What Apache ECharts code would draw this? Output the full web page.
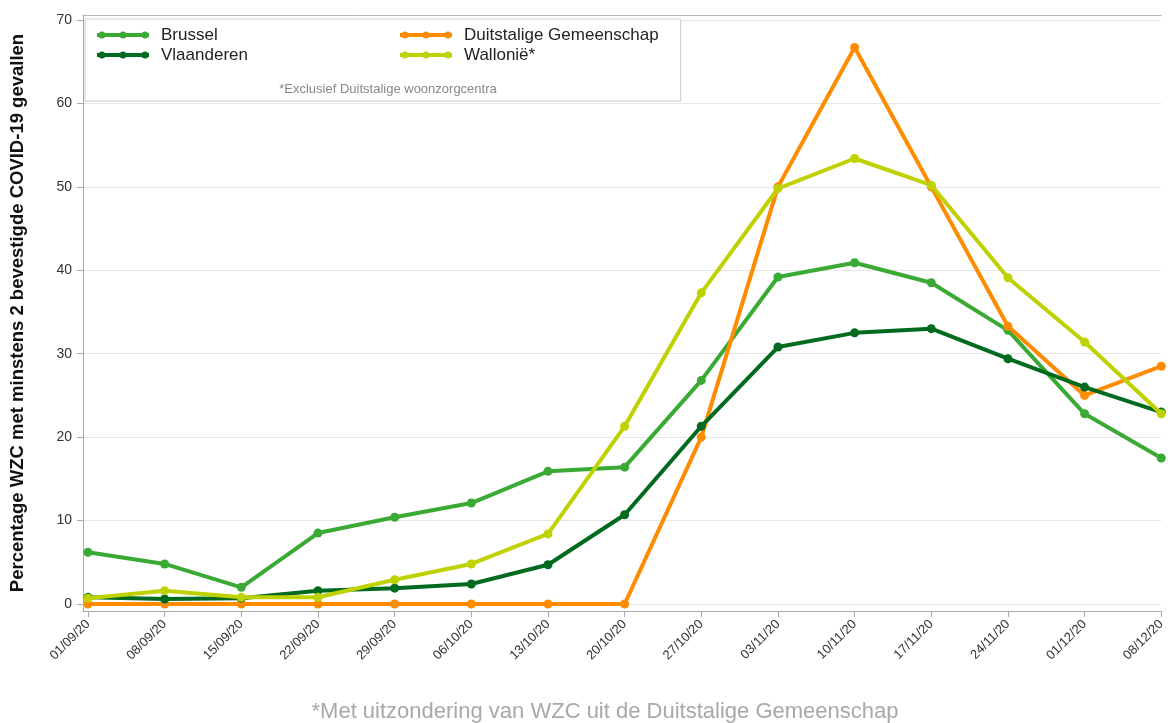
<!DOCTYPE html>
<html>
<head>
<meta charset="utf-8">
<script src="https://cdn.jsdelivr.net/npm/echarts@6/dist/echarts.min.js"></script>
<style>
html,body{margin:0;padding:0;background:#fff;}
#chart{width:1168px;height:723px;}
</style>
</head>
<body>
<div id="chart"></div>
<script>
const categories = ['01/09/20','08/09/20','15/09/20','22/09/20','29/09/20','06/10/20','13/10/20','20/10/20','27/10/20','03/11/20','10/11/20','17/11/20','24/11/20','01/12/20','08/12/20'];
const brussel     = [6.2, 4.8, 2.0, 8.5, 10.4, 12.1, 15.9, 16.4, 26.8, 39.2, 40.9, 38.5, 32.8, 22.8, 17.5];
const duitstalig  = [0, 0, 0, 0, 0, 0, 0, 0, 20.0, 50.0, 66.7, 50.0, 33.3, 25.0, 28.5];
const vlaanderen  = [0.8, 0.6, 0.7, 1.6, 1.9, 2.4, 4.7, 10.7, 21.3, 30.8, 32.5, 33.0, 29.4, 26.0, 23.0];
const wallonie    = [0.7, 1.6, 0.8, 0.8, 2.9, 4.8, 8.4, 21.3, 37.3, 49.8, 53.4, 50.2, 39.1, 31.4, 22.8];
const yTicks = [0, 10, 20, 30, 40, 50, 60, 70];
const seriesNames = ['Brussel', 'Duitstalige Gemeenschap', 'Vlaanderen', 'Wallonië*'];
const seriesValues = [brussel, duitstalig, vlaanderen, wallonie];
const seriesColors = ['#3aaa35', '#ff8c00', '#006b1f', '#bfd200'];

const FONT = "'Liberation Sans', Arial, sans-serif";
const xIdx = categories.map((c, i) => i);
const legendIcon = 'path://M0,2L52,2L52,6L0,6Z M1.5,4a3.5,3.5 0 1,1 7,0a3.5,3.5 0 1,1 -7,0Z M22.5,4a3.5,3.5 0 1,1 7,0a3.5,3.5 0 1,1 -7,0Z M44.5,4a3.5,3.5 0 1,1 7,0a3.5,3.5 0 1,1 -7,0Z';

const chart = echarts.init(document.getElementById('chart'), null, {renderer: 'canvas'});
chart.setOption({
  animation: false,
  backgroundColor: '#fff',
  textStyle: {fontFamily: FONT},
  title: [
    {
      text: '*Met uitzondering van WZC uit de Duitstalige Gemeenschap',
      left: 600, textAlign: 'center', top: 696,
      textStyle: {fontSize: 22, fontWeight: 'normal', color: '#a8a8a8', fontFamily: FONT}
    },
    {
      text: '*Exclusief Duitstalige woonzorgcentra',
      left: 383, textAlign: 'center', top: 78, z: 10,
      textStyle: {fontSize: 13, fontWeight: 'normal', color: '#888'}
    }
  ],
  legend: {
    left: 85, top: 19, width: 575,
    orient: 'horizontal',
    padding: [6, 22, 36, 12],
    itemGap: 0,
    itemWidth: 52, itemHeight: 7,
    icon: legendIcon,
    backgroundColor: '#fff',
    borderColor: '#cccccc', borderWidth: 1,
    data: seriesNames,
    formatter: function (name) {
      const i = seriesNames.indexOf(name);
      return (i % 2 === 0 ? '{a|' : '{b|') + name + '}';
    },
    textStyle: {
      fontSize: 17, color: '#222', lineHeight: 20,
      rich: {
        a: {fontSize: 17, color: '#222', width: 239, padding: [0, 0, 0, 7], lineHeight: 20},
        b: {fontSize: 17, color: '#222', padding: [0, 0, 0, 7], lineHeight: 20}
      }
    }
  },
  grid: {left: 81, right: 5, top: 15, bottom: 112, containLabel: false},
  xAxis: [
    {
      type: 'value', min: -0.065, max: 14,
      position: 'bottom',
      axisLine: {show: true, onZero: false, lineStyle: {color: '#a9a9a9', width: 1}},
      axisTick: {show: true, length: 6, customValues: xIdx, lineStyle: {color: '#a9a9a9'}},
      splitLine: {show: false},
      axisLabel: {
        customValues: xIdx, rotate: 45, margin: 11,
        fontSize: 13, color: '#333',
        formatter: function (v) { return categories[Math.round(v)] || ''; }
      }
    },
    {
      type: 'value', min: -0.065, max: 14, position: 'top',
      axisLine: {show: true, onZero: false, lineStyle: {color: '#b5b5b5', width: 1}},
      axisTick: {show: false}, axisLabel: {show: false}, splitLine: {show: false}
    }
  ],
  yAxis: {
    type: 'value', min: -0.84, max: 70.6, splitNumber: 7,
    name: 'Percentage WZC met minstens 2 bevestigde COVID-19 gevallen',
    nameLocation: 'middle', nameRotate: 90, nameGap: 56,
    nameTextStyle: {fontSize: 18.5, fontWeight: 'bold', color: '#111'},
    axisLine: {show: true, onZero: false, lineStyle: {color: '#a9a9a9', width: 1}},
    axisTick: {show: true, length: 6, customValues: yTicks, lineStyle: {color: '#a9a9a9'}},
    axisLabel: {customValues: yTicks, margin: 11, fontSize: 14, color: '#333'},
    splitLine: {show: true, lineStyle: {color: '#e6e6e6', width: 1}}
  },
  series: seriesNames.map((name, s) => ({
    name: name,
    type: 'line',
    data: seriesValues[s].map((v, i) => [i, v]),
    symbol: 'circle', symbolSize: 9,
    lineStyle: {width: 4, color: seriesColors[s]},
    itemStyle: {color: seriesColors[s]},
    z: 2 + s
  }))
});
</script>
</body>
</html>
